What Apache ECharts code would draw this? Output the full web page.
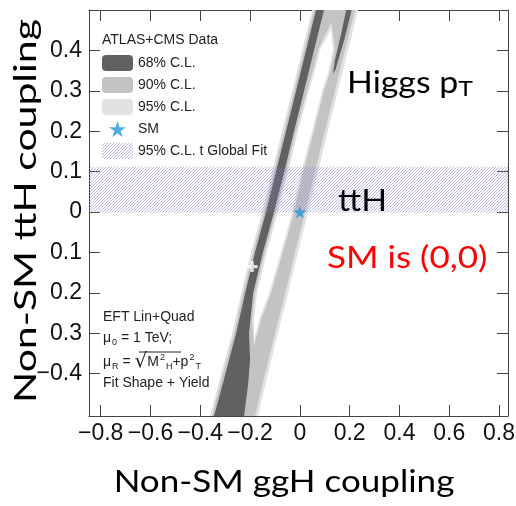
<!DOCTYPE html>
<html><head><meta charset="utf-8">
<script src="https://cdn.jsdelivr.net/npm/echarts@6/dist/echarts.min.js"></script>
<style>html,body{margin:0;padding:0;background:#fff}#c{width:516px;height:506px}</style>
</head><body><div id="c"></div>
<script>
// ---- data ----
const xRange = [-0.847, 0.836];
const yRange = [-0.505, 0.5];
const xTicks = [-0.8, -0.6, -0.4, -0.2, 0, 0.2, 0.4, 0.6, 0.8];
const yTicks = [-0.4, -0.3, -0.2, -0.1, 0, 0.1, 0.2, 0.3, 0.4];
const legendNames = ['68% C.L.', '90% C.L.', '95% C.L.', 'SM', '95% C.L. t Global Fit'];

const cl95Outer = [[0.049,0.5],[0.009,0.401],[-0.031,0.3],[-0.072,0.201],[-0.112,0.099],[-0.152,0],[-0.196,-0.099],[-0.236,-0.201],[-0.272,-0.3],[-0.317,-0.401],[-0.361,-0.505],
  [-0.168,-0.505],[-0.128,-0.401],[-0.088,-0.3],[-0.047,-0.201],[-0.007,-0.099],[0.033,0],[0.073,0.099],[0.113,0.201],[0.153,0.3],[0.194,0.401],[0.234,0.5]];
const cl90Outer = [[0.057,0.5],[0.017,0.401],[-0.023,0.3],[-0.063,0.201],[-0.104,0.099],[-0.144,0],[-0.188,-0.099],[-0.228,-0.201],[-0.264,-0.3],[-0.309,-0.401],[-0.353,-0.505],
  [-0.180,-0.505],[-0.140,-0.401],[-0.100,-0.3],[-0.059,-0.201],[-0.019,-0.099],[0.021,0],[0.061,0.099],[0.101,0.201],[0.141,0.3],[0.181,0.401],[0.222,0.5]];
const cl90Hole = [[0.127,0.468],[0.141,0.401],[0.121,0.345],[0.097,0.300],[0.057,0.201],[0.013,0.099],[-0.023,0.0],[-0.068,-0.099],[-0.116,-0.201],[-0.156,-0.267],[-0.184,-0.332],
  [-0.192,-0.267],[-0.180,-0.201],[-0.140,-0.099],[-0.096,0.0],[-0.055,0.099],[-0.015,0.201],[0.029,0.300],[0.057,0.361],[0.073,0.401],[0.103,0.44]];
const cl95Hole = [[0.125,0.451],[0.133,0.401],[0.113,0.345],[0.089,0.300],[0.049,0.201],[0.005,0.099],[-0.031,0.0],[-0.076,-0.099],[-0.124,-0.201],[-0.164,-0.267],[-0.184,-0.316],
  [-0.184,-0.267],[-0.172,-0.201],[-0.132,-0.099],[-0.088,0.0],[-0.047,0.099],[-0.007,0.201],[0.037,0.300],[0.065,0.361],[0.081,0.401],[0.109,0.433]];
const cl68LeftBand = [[0.065,0.5],[0.025,0.401],[-0.015,0.3],[-0.055,0.201],[-0.096,0.099],[-0.136,0],[-0.180,-0.099],[-0.220,-0.201],[-0.256,-0.3],[-0.284,-0.366],[-0.316,-0.44],[-0.345,-0.505],
  [-0.224,-0.505],[-0.208,-0.427],[-0.200,-0.366],[-0.204,-0.3],[-0.188,-0.201],[-0.148,-0.099],[-0.104,0],[-0.063,0.099],[-0.023,0.201],[0.017,0.3],[0.057,0.401],[0.097,0.5]];
const cl68RightStrip = [[0.186,0.5],[0.208,0.5],[0.178,0.426],[0.143,0.352],[0.133,0.342],[0.141,0.377],[0.165,0.439]];
const globalFitBand = [-0.002, 0.112];
const smPoint = [0, 0];
const bestFitPoint = [-0.192, -0.135];

// ---- styles ----
const SMALL = 'Liberation Sans';
const BIG = 'Lato';
const BIGSCALE = 1.13;
const C68 = '#616161', C90 = '#c3c3c3', C95 = '#e2e2e2';
const STAR = 'path://M50,0L61,35L98,35L68,57L79,91L50,70L21,91L32,57L2,35L39,35Z';
const PLUS = 'path://M3.5,0H6.5V3.5H10V6.5H6.5V10H3.5V6.5H0V3.5H3.5Z';

const pc = document.createElement('canvas');
pc.width = 3; pc.height = 3;
const g = pc.getContext('2d');
g.strokeStyle = 'rgba(130,130,205,0.55)';
g.lineWidth = 1;
g.beginPath();
g.moveTo(0,3); g.lineTo(3,0);
g.moveTo(-1,1); g.lineTo(1,-1);
g.moveTo(2,4); g.lineTo(4,2);
g.stroke();
const hatch = {image: pc, repeat: 'repeat'};

function polySeries(name, color, polys, z) {
  return {
    type: 'custom', name: name, coordinateSystem: 'cartesian2d', z: z, silent: true,
    itemStyle: {color: color},
    data: polys.map((p, i) => [i]),
    renderItem: function (params, api) {
      const pts = polys[api.value(0)].map(p => api.coord(p));
      return {type: 'polygon', shape: {points: pts}, style: {fill: api.visual('color')}};
    }
  };
}
function bandSeries(name, fill, band, z) {
  return {
    type: 'custom', name: name, coordinateSystem: 'cartesian2d', z: z, silent: true,
    itemStyle: {color: fill},
    data: [[0]],
    renderItem: function (params, api) {
      const p1 = api.coord([xRange[0], band[1]]);
      const p2 = api.coord([xRange[1], band[0]]);
      return {type: 'rect', shape: {x: p1[0], y: p1[1], width: p2[0]-p1[0], height: p2[1]-p1[1]}, style: {fill: api.visual('color')}};
    }
  };
}
const fmt = v => (v < 0 ? '\u2212' + String(Math.abs(v)) : String(v));
function xAx(pos, labels) {
  return {
    type: 'value', position: pos, min: xRange[0], max: xRange[1], splitLine: {show: false},
    axisLine: {show: true, onZero: false, lineStyle: {color: '#444', width: 1}},
    axisTick: {show: true, inside: true, length: 11, customValues: xTicks, lineStyle: {color: '#444'}},
    axisLabel: {show: labels, customValues: xTicks, formatter: fmt, fontSize: 23, fontFamily: SMALL, color: '#111', margin: 6}
  };
}
function yAx(pos, labels) {
  return {
    type: 'value', position: pos, min: yRange[0], max: yRange[1], splitLine: {show: false},
    axisLine: {show: true, onZero: false, lineStyle: {color: '#444', width: 1}},
    axisTick: {show: true, inside: true, length: 11, customValues: yTicks, lineStyle: {color: '#444'}},
    axisLabel: {show: labels, customValues: yTicks, formatter: fmt, fontSize: 23, fontFamily: SMALL, color: '#111', margin: 7}
  };
}

const chart = echarts.init(document.getElementById('c'), null, {renderer: 'canvas'});
const txt = {fontSize: 14, fontFamily: SMALL, fill: '#222'};
const sub = {fontSize: 9, lineHeight: 9, fontFamily: SMALL, fill: '#222', padding: [9, 0, 0, 1]};
const sup = {fontSize: 9, lineHeight: 9, fontFamily: SMALL, fill: '#222', padding: [0, 0, 9, 1]};

chart.setOption({
  animation: false,
  grid: {left: 89, right: 8, top: 10, bottom: 90, containLabel: false, outerBoundsMode: 'none'},
  xAxis: [xAx('bottom', true), xAx('top', false)],
  yAxis: [yAx('left', true), yAx('right', false)],
  title: {text: 'ATLAS+CMS Data', left: 102, top: 33, padding: 0,
    textStyle: {fontSize: 14, fontWeight: 'normal', fontFamily: SMALL, color: '#222'}},
  legend: {
    data: [
      {name: legendNames[0], icon: 'roundRect'},
      {name: legendNames[1], icon: 'roundRect'},
      {name: legendNames[2], icon: 'roundRect'},
      {name: legendNames[3], icon: STAR},
      {name: legendNames[4], icon: 'rect'}
    ],
    orient: 'vertical', left: 102, top: 55, padding: 0,
    itemWidth: 31, itemHeight: 16, itemGap: 6, selectedMode: false,
    textStyle: {fontSize: 14, fontFamily: SMALL, color: '#222'}
  },
  series: [
    polySeries(legendNames[2], C95, [cl95Outer], 2),
    polySeries(legendNames[1], C90, [cl90Outer], 3),
    polySeries(legendNames[2], C95, [cl90Hole], 4),
    polySeries('inside', '#ffffff', [cl95Hole], 5),
    polySeries(legendNames[0], C68, [cl68LeftBand, cl68RightStrip], 6),
    bandSeries(legendNames[4], hatch, globalFitBand, 7),
    {type: 'scatter', name: legendNames[3], data: [smPoint], symbol: STAR, symbolSize: 13,
      itemStyle: {color: '#1e9ad6'}, z: 10, silent: true},
    {type: 'scatter', name: 'best fit', data: [bestFitPoint], symbol: PLUS, symbolSize: 11,
      itemStyle: {color: '#ffffff'}, z: 10, silent: true}
  ],
  graphic: [
    {type: 'text', x: 30.5, y: 211, rotation: Math.PI / 2, scaleX: 1.32, z: 100,
      style: {text: '{a|No}{b|n-SM ttH coupling}', align: 'center', verticalAlign: 'middle',
        rich: {a: {fontSize: 31, fontFamily: BIG, fill: '#000', padding: [0, 0, 9, 0]},
               b: {fontSize: 31, fontFamily: BIG, fill: '#000', padding: [0, 0, 9, 0], backgroundColor: '#ffffff'}}}},
    {type: 'text', x: 284, y: 482, scaleX: BIGSCALE, z: 100,
      style: {text: 'Non-SM ggH coupling', font: '31px ' + BIG, fill: '#000', align: 'center', verticalAlign: 'middle'}},
    {type: 'text', x: 347, y: 83, scaleX: BIGSCALE, z: 100,
      style: {text: '{a|Higgs p}{b|T}', align: 'left', verticalAlign: 'middle',
        rich: {a: {fontSize: 30, fontFamily: BIG, fill: '#000'},
               b: {fontSize: 22, lineHeight: 22, fontFamily: BIG, fill: '#000', padding: [12, 0, 0, 0]}}}},
    {type: 'text', x: 338, y: 201, scaleX: BIGSCALE, z: 100,
      style: {text: 'ttH', font: '30px ' + BIG, fill: '#000', align: 'left', verticalAlign: 'middle'}},
    {type: 'text', x: 327, y: 258, scaleX: BIGSCALE, z: 100,
      style: {text: 'SM is (0,0)', font: '31px ' + BIG, fill: '#ff0000', align: 'left', verticalAlign: 'middle'}},
    {type: 'text', x: 103, y: 317, z: 100,
      style: {text: 'EFT Lin+Quad', font: '14px ' + SMALL, fill: '#222', align: 'left', verticalAlign: 'middle'}},
    {type: 'text', x: 103, y: 338, z: 100,
      style: {text: '{m|\u03bc}{s|0}{m| = 1 TeV;}', align: 'left', verticalAlign: 'middle',
        rich: {m: txt, s: sub}}},
    {type: 'text', x: 103, y: 362, z: 100,
      style: {text: '{m|\u03bc}{s|R}{m| = }{r|\u221a}{m|M}{p|2}{s|H}{m|+p}{p|2}{s|T}', align: 'left', verticalAlign: 'middle',
        rich: {m: txt, s: sub, p: sup, r: {fontSize: 20, fontFamily: 'DejaVu Sans', fill: '#222'}}}},
    {type: 'line', z: 100, shape: {x1: 139, y1: 352, x2: 181, y2: 352}, style: {stroke: '#222', lineWidth: 1}},
    {type: 'text', x: 103, y: 383, z: 100,
      style: {text: 'Fit Shape + Yield', font: '14px ' + SMALL, fill: '#222', align: 'left', verticalAlign: 'middle'}}
  ]
});
</script></body></html>
